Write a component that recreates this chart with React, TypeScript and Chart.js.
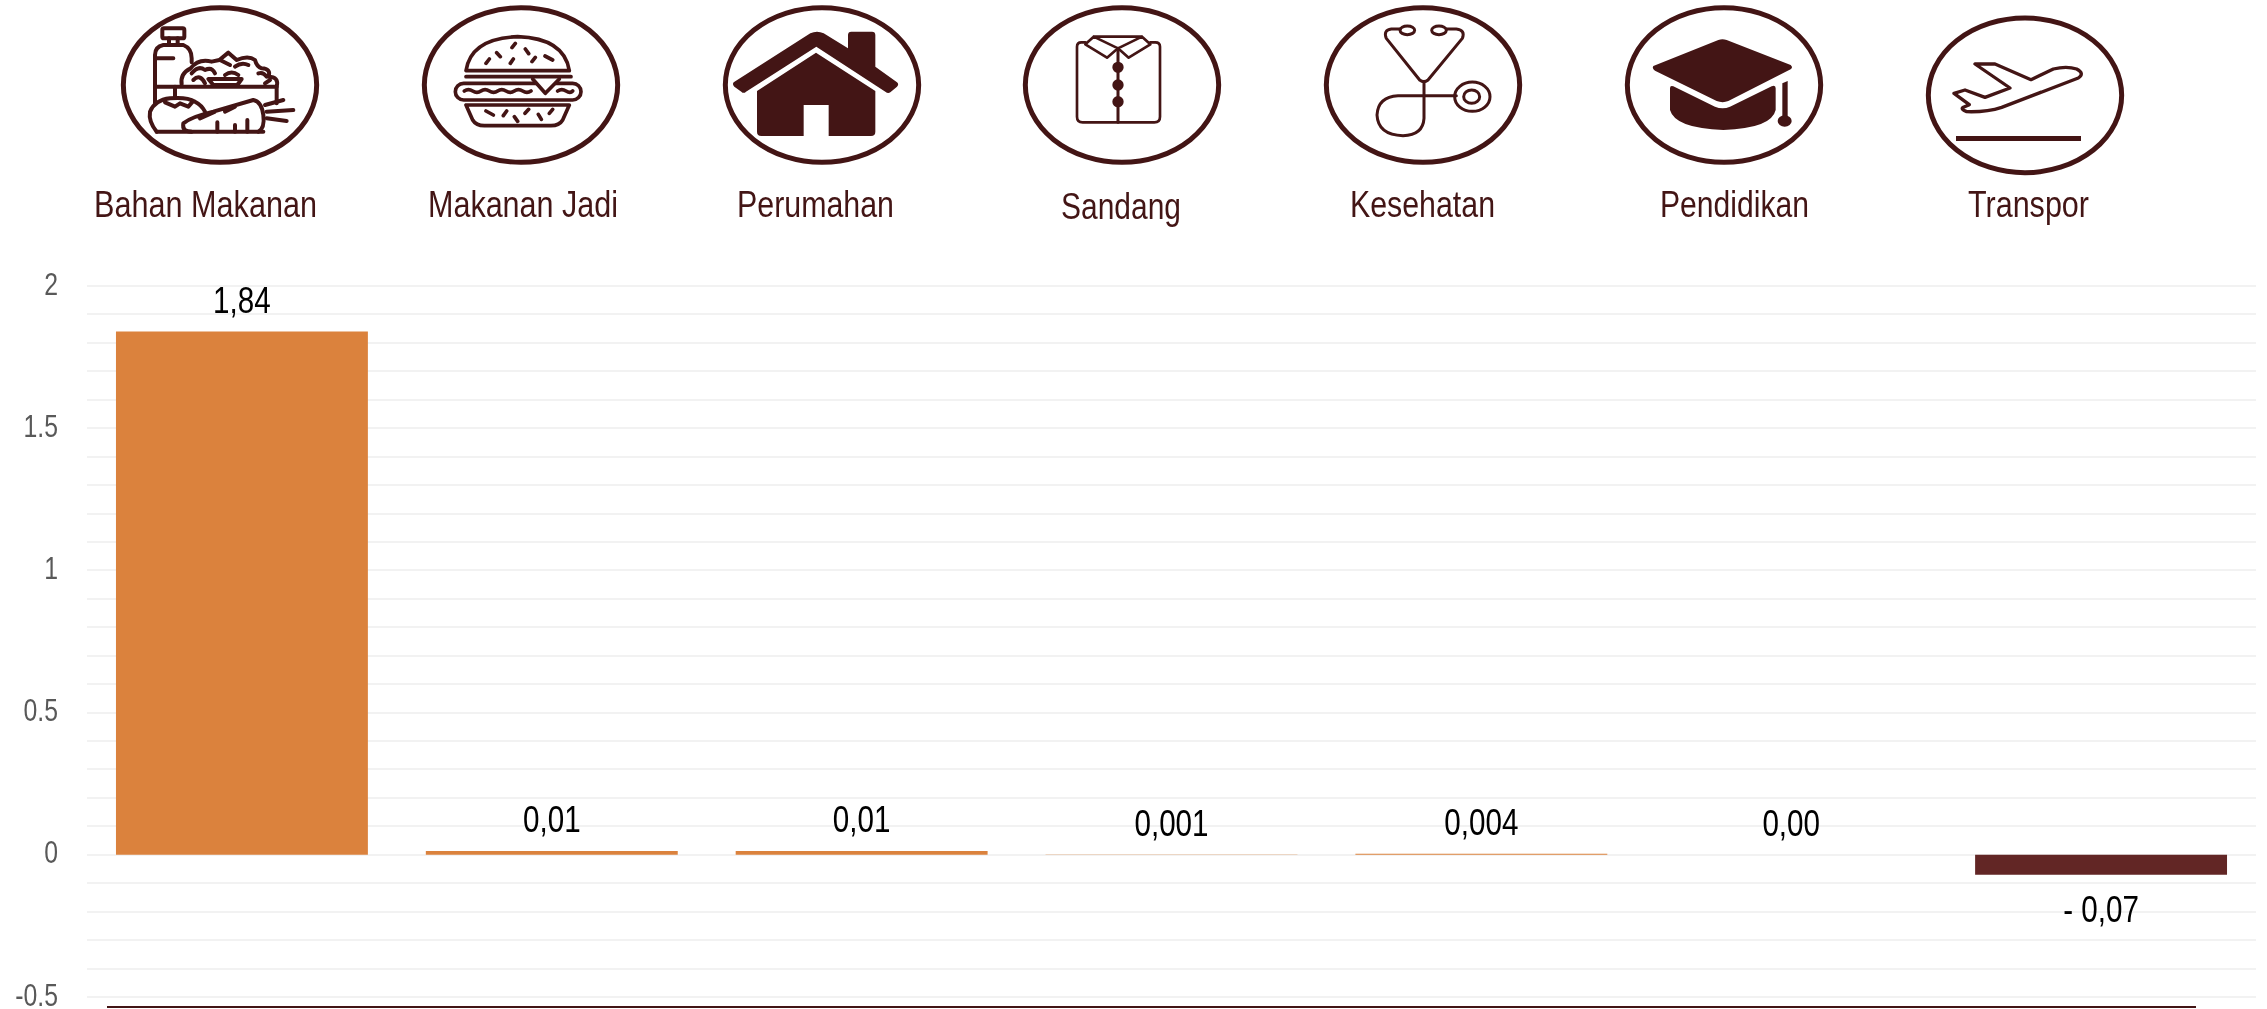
import React, { useEffect, useRef } from "react";
import { Chart, registerables } from "chart.js";

Chart.register(...registerables);

const categories = ["Bahan Makanan", "Makanan Jadi", "Perumahan", "Sandang", "Kesehatan", "Pendidikan", "Transpor"];
const seriesValues = [1.84, 0.013, 0.013, 0.001, 0.004, 0, -0.07];
const valueLabels = ["1,84", "0,01", "0,01", "0,001", "0,004", "0,00", "- 0,07"];
const barColours = ["#DB823D", "#DB823D", "#DB823D", "#DB823D", "#DB823D", "#DB823D", "#622625"];
const yTickLabels = [2, 1.5, 1, 0.5, 0, -0.5];

const INK = "#431515";
const FONT = '"Liberation Sans", Arial, sans-serif';

const textPlugin = {
  id: "condensedText",
  afterDatasetsDraw(chart: any) {
    const ctx = chart.ctx;
    const meta = chart.getDatasetMeta(0);
    const yScale = chart.scales.y;

    ctx.save();
    ctx.fillStyle = "#595959";
    ctx.font = `31px ${FONT}`;
    ctx.textAlign = "right";
    ctx.textBaseline = "middle";
    yTickLabels.forEach((v) => {
      ctx.save();
      ctx.translate(yScale.right - 29, yScale.getPixelForValue(v));
      ctx.scale(0.8, 1);
      ctx.fillText(String(v), 0, 0);
      ctx.restore();
    });
    ctx.restore();

    ctx.save();
    ctx.fillStyle = "#000000";
    ctx.font = `37px ${FONT}`;
    ctx.textAlign = "center";
    ctx.textBaseline = "alphabetic";
    meta.data.forEach((bar: any, i: number) => {
      const y = seriesValues[i] < 0 ? bar.y + 47 : bar.y - 19;
      ctx.save();
      ctx.translate(bar.x, y);
      ctx.scale(0.8, 1);
      ctx.fillText(valueLabels[i], 0, 0);
      ctx.restore();
    });
    ctx.restore();
  },
};

const labelPlaces = [
  { x: 94, w: 223, y: 217 },
  { x: 428, w: 190, y: 217 },
  { x: 737, w: 157, y: 217 },
  { x: 1061, w: 120, y: 219 },
  { x: 1350, w: 145, y: 217 },
  { x: 1660, w: 149, y: 217 },
  { x: 1968, w: 121, y: 217 },
];

const s = { fill: "none", stroke: INK, strokeLinecap: "round" as const, strokeLinejoin: "round" as const };

function Food() {
  return (
    <g {...s} strokeWidth={12}>
      <rect x="127" y="70" width="66" height="30" rx="5" />
      <path d="M147 100V120M173 100V120M105 295V150Q105 125 130 120H190Q215 130 215 160V172M105 160H160M105 245H165" />
      <path d="M185 238Q180 205 212 190Q235 160 275 170L298 165L325 143L350 165Q385 150 405 165Q410 185 425 190Q455 192 445 215Q478 215 470 245" />
      <path d="M215 205Q235 180 255 195Q275 185 285 205M220 225Q240 205 255 235M315 210Q335 195 355 210M345 185Q365 170 385 180M415 205Q430 200 440 215M435 235L450 225" />
      <path d="M265 222H365L352 240H280ZM300 165L330 180" />
      <path d="M165 245H470V295M165 245V275" />
      <path d="M110 380Q85 350 90 320Q105 285 150 280Q200 275 225 290Q245 300 255 320M135 292L165 305L180 295L205 305L218 290" />
      <path d="M110 380H430" />
      <path d="M190 355Q215 335 280 320L400 285Q425 290 430 330Q435 370 415 380M190 355Q185 380 215 380M240 340L285 320M315 320L345 305M292 380V352M345 380V360M382 380V345" />
      <path d="M435 300L490 285M440 320L520 315M440 340L500 348" />
    </g>
  );
}

function Burger() {
  return (
    <g {...s} strokeWidth={11}>
      <path d="M135 197H445Q430 100 290 95Q150 100 135 197Z" />
      <path d="M195 175L205 162M227 143L238 155M273 128L283 115M313 132L323 146M268 175L277 162M333 170L343 157M372 153L395 165" />
      <path d="M135 215H450" />
      <rect x="103" y="235" width="377" height="50" rx="25" />
      <path d="M335 222L373 265L415 222" fill="#ffffff" />
      <path d="M130 258Q142 250 155 258T180 258T205 258T230 258T255 258T280 258T305 258T330 258M410 258Q422 250 435 258T455 258" />
      <path d="M135 300H445L425 345Q415 362 390 362H190Q165 362 155 345Z" />
      <path d="M195 318L217 330M247 332L257 318M280 335L290 349M312 325L323 313M352 328L361 343M385 325L395 313" />
    </g>
  );
}

function House() {
  return (
    <g fill={INK} stroke="none">
      <path d="M35 232L265 85Q285 75 305 85L378 130V90Q378 80 388 80H450Q460 80 460 90V185L525 232Q532 238 525 245L505 262Q498 267 490 260L283 125L72 260Q65 267 58 260L37 245Q30 238 35 232Z" />
      <path d="M105 258L282 143L460 258V380Q460 393 447 393H320V300H245V393H118Q105 393 105 380Z" />
    </g>
  );
}

function Shirt() {
  return (
    <g {...s} strokeWidth={8}>
      <path d="M190 112H178Q165 112 165 125V335Q165 352 182 352H397Q414 352 414 335V125Q414 112 400 112H385" />
      <path d="M215 95H360L385 118L320 158L288 130L255 158L190 118ZM215 95L288 130L360 95" />
      <path d="M288 130V352" strokeWidth={9} />
      <g fill={INK}>
        <circle cx="288" cy="187" r="13" />
        <circle cx="288" cy="240" r="13" />
        <circle cx="288" cy="290" r="13" />
      </g>
    </g>
  );
}

function Stethoscope() {
  return (
    <g {...s} strokeWidth={9}>
      <ellipse cx="253" cy="76" rx="22" ry="13" />
      <ellipse cx="348" cy="76" rx="22" ry="13" />
      <path d="M232 72H205Q180 75 190 100L290 225Q303 235 315 225L418 100Q428 75 400 72H370" />
      <path d="M303 232V340Q300 390 240 392Q165 390 162 330Q165 275 225 272H400" />
      <ellipse cx="448" cy="275" rx="53" ry="44" />
      <ellipse cx="446" cy="275" rx="24" ry="20" />
    </g>
  );
}

function Cap() {
  return (
    <g fill={INK} stroke="none">
      <path d="M85 183L280 105Q292 100 305 105L497 180Q505 187 497 193L310 288Q293 295 275 288L90 197Q80 190 85 183Z" />
      <path d="M135 250Q135 240 145 244L270 305Q293 315 315 305L440 244Q452 238 452 250V315Q440 370 295 375Q150 370 135 315Z" />
      <path d="M472 235L488 228V340H472Z" />
      <ellipse cx="479" cy="348" rx="21" ry="17" />
    </g>
  );
}

function Plane() {
  return (
    <g>
      <path {...s} strokeWidth={10} d="M135 150H195L303 197L370 165Q410 155 440 165Q465 178 445 192L215 280Q170 295 110 293Q90 285 100 280L118 272L72 238L105 228L165 250L240 222Z" />
      <rect x="78" y="366" width="375" height="15" fill={INK} />
    </g>
  );
}

const icons = [
  { x: 120, y: 5, cx: 300, cy: 240, body: <Food /> },
  { x: 421, y: 5, cx: 300, cy: 240, body: <Burger /> },
  { x: 722, y: 5, cx: 300, cy: 240, body: <House /> },
  { x: 1022, y: 5, cx: 300, cy: 240, body: <Shirt /> },
  { x: 1323, y: 5, cx: 300, cy: 240, body: <Stethoscope /> },
  { x: 1625, y: 5, cx: 297, cy: 240, body: <Cap /> },
  { x: 1930, y: 14, cx: 285, cy: 244, body: <Plane /> },
];

export default function App() {
  const ref = useRef<HTMLCanvasElement>(null);
  useEffect(() => {
    if (!ref.current) return;
    const chart = new Chart(ref.current, {
      type: "bar",
      data: {
        labels: categories,
        datasets: [
          {
            data: seriesValues,
            base: 1e-9,
            backgroundColor: barColours,
            borderWidth: 0,
            categoryPercentage: 1,
            barPercentage: 0.813,
          },
        ],
      },
      options: {
        animation: false,
        responsive: false,
        layout: { padding: { top: 286, bottom: 33, left: 0, right: 11 } },
        plugins: { legend: { display: false }, tooltip: { enabled: false } },
        scales: {
          x: { display: false },
          y: {
            min: -0.5,
            max: 2,
            afterFit(scale: any) {
              scale.width = 87;
            },
            border: { display: false },
            grid: { color: "#F2F2F2", lineWidth: 2, drawTicks: false },
            ticks: { display: false, stepSize: 0.1, autoSkip: false },
          },
        },
      },
      plugins: [textPlugin],
    } as any);
    return () => chart.destroy();
  }, []);

  return (
    <div style={{ position: "absolute", left: 0, top: 0, width: 2267, height: 1009, overflow: "hidden", background: "#ffffff" }}>
      <canvas ref={ref} width={2267} height={1030} style={{ position: "absolute", left: 0, top: 0, display: "block" }} />
      <svg width={2267} height={240} style={{ position: "absolute", left: 0, top: 0 }}>
        {icons.map((ic, i) => (
          <g key={i} transform={`translate(${ic.x} ${ic.y}) scale(${1 / 3})`}>
            <ellipse cx={ic.cx} cy={ic.cy} rx={290} ry={232} fill="none" stroke={INK} strokeWidth={15} />
            {ic.body}
          </g>
        ))}
        {categories.map((c, i) => (
          <text
            key={c}
            x={labelPlaces[i].x}
            y={labelPlaces[i].y}
            textLength={labelPlaces[i].w}
            lengthAdjust="spacingAndGlyphs"
            fontFamily={FONT}
            fontSize={37}
            fill={INK}
          >
            {c}
          </text>
        ))}
      </svg>
      <div style={{ position: "absolute", left: 107, top: 1006, width: 2089, height: 2, background: INK }} />
    </div>
  );
}
